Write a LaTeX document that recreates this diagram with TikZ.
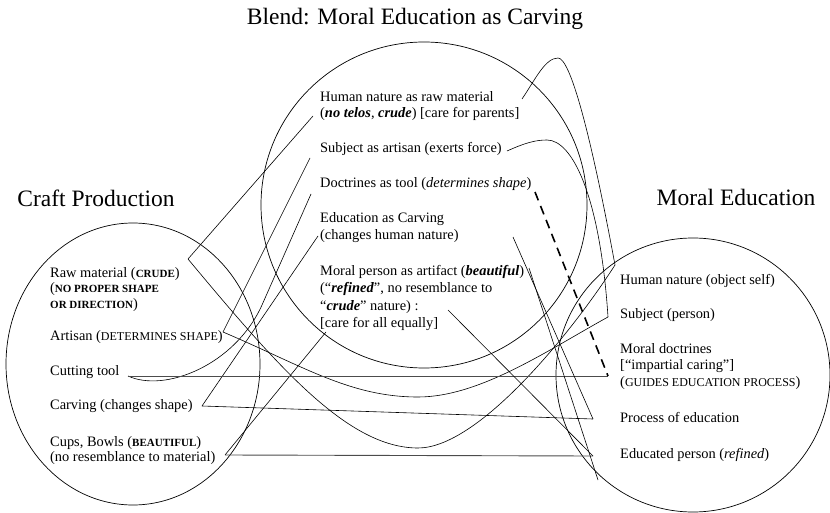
\documentclass[tikz,border=0pt]{standalone}
\usepackage{fontspec}
\setmainfont{Liberation Serif}
\newcommand{\smallcaps}[1]{{\fontsize{12}{17}\selectfont #1}}
\newcommand{\bsmallcaps}[1]{{\fontsize{11}{17}\selectfont\bfseries #1}}
\newcommand{\bi}[1]{\textbf{\textit{#1}}}

\begin{document}
\begin{tikzpicture}[x=1pt, y=-1pt,
        title/.style = {font=\fontsize{23.5}{28}\selectfont, inner sep=0pt, anchor=base},
        item/.style = {font=\fontsize{14.4}{17}\selectfont, inner sep=0pt, anchor=base west, align=left},
        space/.style = {line width=0.7pt},
        link/.style = {line width=0.6pt},
        straight/.style = {line width=0.9pt, black!70}]
    \useasboundingbox (0,0) rectangle (830,513);

    % the three mental spaces
    \draw[space] (133,364) ellipse [x radius=127pt, y radius=141pt];
    \draw[space] (424,205) circle [radius=163pt];
    \draw[space] (693,375) circle [radius=137pt];

    \node[title] (blendT) at (415,25) {Blend: Moral Education as Carving};
    \node[title] (craftT) at (96,206.5) {Craft Production};
    \node[title] (moralT) at (736,206) {Moral Education};

    % craft production (multi-line texts sit on their last line)
    \node[item, font=\fontsize{14.4}{15.5}\selectfont] (raw) at (50,308)
        {Raw material (\bsmallcaps{CRUDE})\\(\bsmallcaps{NO PROPER SHAPE}\\\bsmallcaps{OR DIRECTION})};
    \node[item] (artisan) at (50,340) {Artisan (\smallcaps{DETERMINES SHAPE})};
    \node[item] (tool) at (50,375) {Cutting tool};
    \node[item] (carving) at (50,409) {Carving (changes shape)};
    \node[item, font=\fontsize{14.4}{15}\selectfont] (cups) at (50,461)
        {Cups, Bowls (\bsmallcaps{BEAUTIFUL})\\(no resemblance to material)};

    % blend
    \node[item, font=\fontsize{14.4}{16.5}\selectfont] (hnraw) at (320,118)
        {Human nature as raw material\\(\bi{no telos}, \bi{crude}) [care for parents]};
    \node[item] (subjart) at (320,153) {Subject as artisan (exerts force)};
    \node[item] (doctool) at (320,188) {Doctrines as tool (\textit{determines shape})};
    \node[item] (educarv) at (320,240) {Education as Carving\\(changes human nature)};
    \node[item, font=\fontsize{14.4}{17.5}\selectfont] (artifact) at (320,327.5)
        {Moral person as artifact (\bi{beautiful})\\(``\bi{refined}'', no resemblance to\\``\bi{crude}'' nature) :\\{[}care for all equally{]}};

    % moral education
    \node[item] (hn) at (620,284) {Human nature (object self)};
    \node[item] (subj) at (620,318) {Subject (person)};
    \node[item, font=\fontsize{14.4}{16.5}\selectfont] (doct) at (620,386)
        {Moral doctrines\\{[}``impartial caring''{]}\\(\smallcaps{GUIDES EDUCATION PROCESS})};
    \node[item] (proc) at (620,422) {Process of education};
    \node[item] (educ) at (620,458) {Educated person (\textit{refined})};

    % ends of the connectors
    \coordinate (rawV) at (188,259);
    \coordinate (artV) at (223,332);
    \coordinate (toolE) at (128,376);
    \coordinate (carvV) at (202,406);
    \coordinate (cupsV) at (225,455);
    \coordinate (hnrawL) at (313,116);
    \coordinate (hnrawR) at (522,99);
    \coordinate (subjartL) at (310,158);
    \coordinate (subjartR) at (507,151);
    \coordinate (doctoolL) at (311,194);
    \coordinate (doctoolR) at (535,192);
    \coordinate (educarvL) at (318,236);
    \coordinate (educarvR) at (513,237);
    \coordinate (artifactL) at (326,332);
    \coordinate (artifactR) at (529,268);
    \coordinate (crudeR) at (448,310);
    \coordinate (hnV) at (615,265);
    \coordinate (subjV) at (608,317);
    \coordinate (doctV) at (608,376);
    \coordinate (procV) at (593,419);
    \coordinate (educV) at (593,456);
    \coordinate (beautE) at (598,480);

    % craft -- blend
    \draw[link] (rawV) -- (hnrawL);
    \draw[link] (artV) -- (subjartL);
    \draw[link] (toolE) .. controls (165,393) and (235,365) .. (262,305) -- (doctoolL);
    \draw[link] (carvV) -- (educarvL);
    \draw[link] (cupsV) -- (artifactL);

    % craft -- moral education
    \draw[link] (rawV) .. controls (278,367) and (348,448) .. (418,448)
        .. controls (478,448) and (570,335) .. (hnV);
    \draw[link] (artV) .. controls (303,366) and (350,397) .. (418,397)
        .. controls (480,397) and (548,350) .. (subjV);
    \draw[straight] (toolE) -- (doctV);
    \draw[link] (carvV) -- (procV);
    \draw[straight] (cupsV) -- (educV);

    % blend -- moral education
    \draw[link] (hnrawR) .. controls (535,80) and (545,58) .. (558,58)
        .. controls (570,58) and (590,130) .. (hnV);
    \draw[link] (subjartR) .. controls (525,143) and (535,140) .. (547,140)
        .. controls (572,140) and (600,195) .. (subjV);
    \draw[line width=1.6pt, dash pattern=on 9pt off 6pt] (doctoolR) -- (doctV);
    \draw[link] (educarvR) -- (procV);
    \draw[link] (crudeR) -- (educV);
    \draw[link] (artifactR) -- (beautE);
\end{tikzpicture}
\end{document}
